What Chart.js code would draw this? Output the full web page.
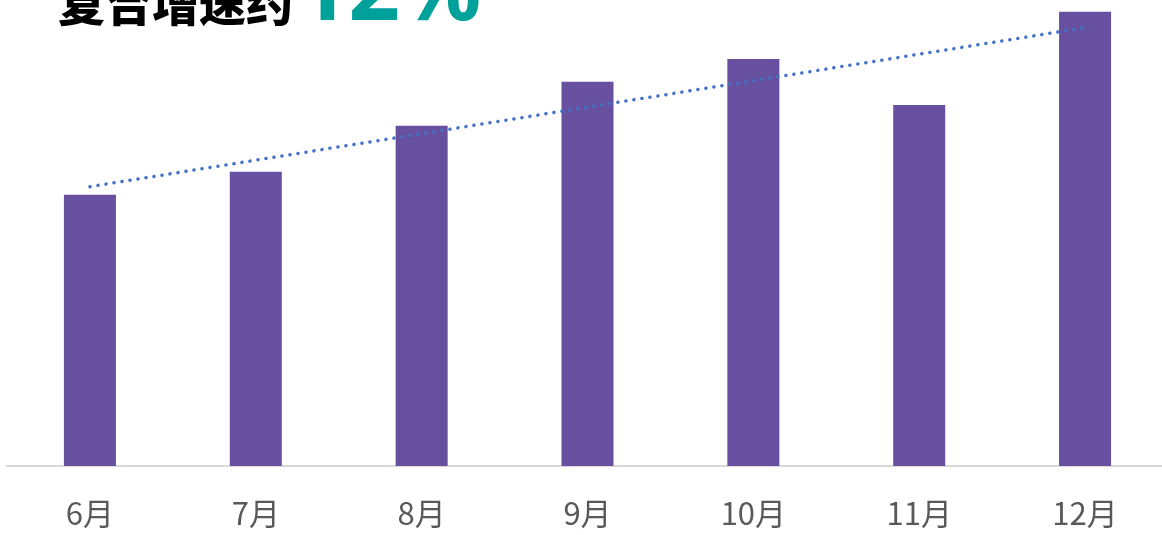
<!DOCTYPE html>
<html>
<head>
<meta charset="utf-8">
<script src="https://cdn.jsdelivr.net/npm/chart.js@4/dist/chart.umd.min.js"></script>
<style>
  html, body { margin: 0; padding: 0; background: #fff; overflow: hidden; }
  #wrap { position: relative; width: 1162px; height: 535px; overflow: hidden; }
  #chartBox { position: absolute; left: 0; top: 0; width: 1176px; height: 535px; }
  .title-cn {
    position: absolute; left: 58px; top: -23px; line-height: 1;
    font-family: "Noto Sans CJK SC", sans-serif; font-weight: 900; font-size: 47px; color: #000;
    white-space: nowrap;
  }
  .title-num {
    position: absolute; left: 297px; top: -60px; line-height: 1;
    font-family: "Noto Sans", sans-serif; font-weight: 700; font-size: 90px; color: #00A19A;
    white-space: nowrap;
  }
</style>
</head>
<body>
<div id="wrap">
  <div id="chartBox"><canvas id="growthChart"></canvas></div>
  <span class="title-cn">复合增速约</span>
  <span class="title-num">12%</span>
</div>
<script>
const months = ["6月", "7月", "8月", "9月", "10月", "11月", "12月"];
const salesValues = [59.7, 64.8, 74.9, 84.6, 89.6, 79.5, 100];
// trend line read at first and last month only
const trendValues = [61.5, null, null, null, null, null, 96.5];
const yMax = 102.6;

document.addEventListener("DOMContentLoaded", () => {
  const ctx = document.getElementById("growthChart").getContext("2d");

  new Chart(ctx, {
    type: "bar",
    data: {
      labels: months,
      datasets: [
        {
          type: "line",
          label: "趋势",
          data: trendValues,
          spanGaps: true,
          borderColor: "#4472C4",
          borderWidth: 3.5,
          borderDash: [0.1, 8],
          borderCapStyle: "round",
          pointRadius: 0,
          fill: false,
          order: 0
        },
        {
          label: "数值",
          data: salesValues,
          backgroundColor: "#67509F",
          barPercentage: 0.3136,
          categoryPercentage: 1,
          order: 1
        }
      ]
    },
    options: {
      responsive: true,
      maintainAspectRatio: false,
      animation: false,
      layout: {
        padding: { left: 7, right: 8, top: 0, bottom: 0 }
      },
      scales: {
        x: {
          grid: { display: false, drawTicks: false },
          border: { display: true, color: "#D9D9D9", width: 2 },
          ticks: {
            color: "#595959",
            padding: 29,
            font: { family: "'Noto Sans CJK SC', sans-serif", size: 31 }
          },
          afterFit: (axis) => { axis.height = 69; }
        },
        y: {
          display: false,
          min: 0,
          max: yMax
        }
      },
      plugins: {
        legend: { display: false },
        tooltip: { enabled: false }
      }
    }
  });
});
</script>
</body>
</html>
